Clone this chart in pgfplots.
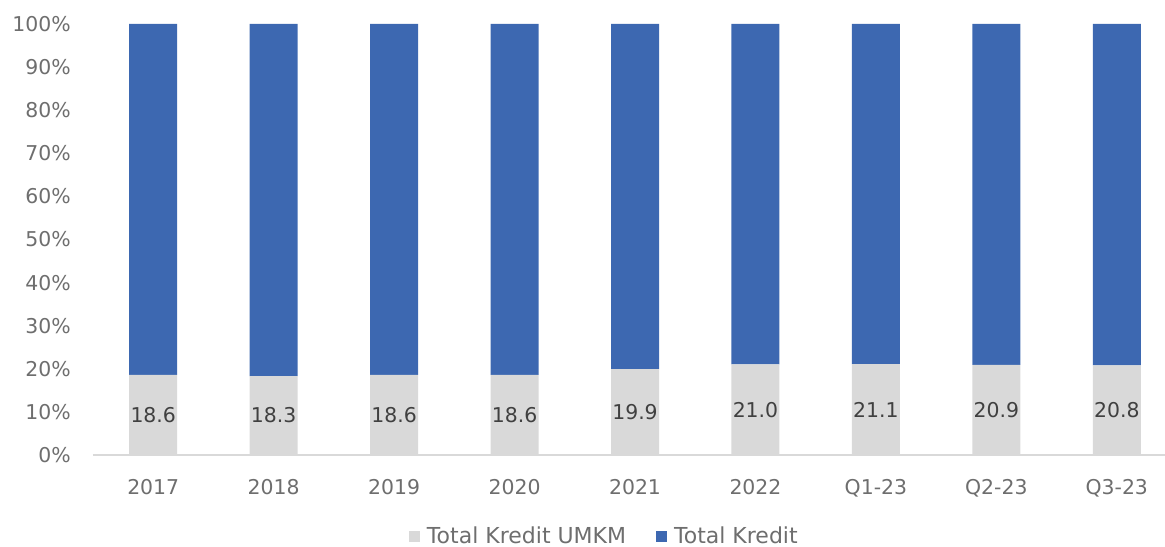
\documentclass[border=0pt]{standalone}
\usepackage{pgfplots}
\pgfplotsset{compat=1.18}
\usepackage{fontspec}
\setmainfont{DejaVu Sans}
\definecolor{barblue}{HTML}{3D68B1}
\definecolor{bargray}{HTML}{D9D9D9}
\definecolor{ticktext}{HTML}{6E6E6E}
\definecolor{valtext}{HTML}{404040}
\begin{document}
\fontsize{10.2bp}{12bp}\selectfont
\begin{tikzpicture}
\begin{axis}[
  scale only axis,
  width=536bp, height=215.5bp,
  xmin=-0.5, xmax=8.4,
  ymin=0, ymax=100,
  ybar stacked,
  bar width=24bp,
  xtick={0,1,2,3,4,5,6,7,8},
  xticklabels={2017,2018,2019,2020,2021,2022,Q1-23,Q2-23,Q3-23},
  ytick={0,10,20,30,40,50,60,70,80,90,100},
  yticklabel={\pgfmathprintnumber{\tick}\%},
  /pgf/number format/assume math mode=true,
  axis x line*=bottom,
  axis y line*=left,
  x axis line style={draw=bargray, line width=0.8bp, -},
  y axis line style={draw=none},
  major tick length=0pt,
  tick label style={font=\fontsize{10.2bp}{12bp}\selectfont, text=ticktext},
  yticklabel style={xshift=-7.5bp},
  xticklabel style={yshift=-8.5bp},
  legend style={draw=none, fill=none, at={(0.477,-0.19)}, anchor=center,
    legend columns=2, font=\fontsize{11bp}{13bp}\selectfont, text=ticktext,
    nodes={inner sep=1bp},
    /tikz/every odd column/.append style={column sep=2.5bp},
    /tikz/every even column/.append style={column sep=14bp}},
  legend image code/.code={\fill[#1] (0bp,-2.75bp) rectangle (5.5bp,2.75bp);},
  clip=false,
]
\addplot[fill=bargray, draw=none,
  nodes near coords,
  every node near coord/.append style={text=valtext,
    font=\fontsize{10.2bp}{12bp}\selectfont},
  nodes near coords={\pgfmathprintnumber[fixed, fixed zerofill, precision=1]{\pgfplotspointmeta}},
] coordinates {
  (0,18.6) (1,18.3) (2,18.6) (3,18.6) (4,19.9) (5,21.0) (6,21.1) (7,20.9) (8,20.8)
};
\addlegendentry{Total Kredit UMKM}
\addplot[fill=barblue, draw=none] coordinates {
  (0,81.4) (1,81.7) (2,81.4) (3,81.4) (4,80.1) (5,79.0) (6,78.9) (7,79.1) (8,79.2)
};
\addlegendentry{Total Kredit}
\end{axis}
\pgfresetboundingbox
\path (current axis.south west) ++(-46.5bp,-46bp) rectangle ++(582.5bp,273.5bp);
\end{tikzpicture}
\end{document}
